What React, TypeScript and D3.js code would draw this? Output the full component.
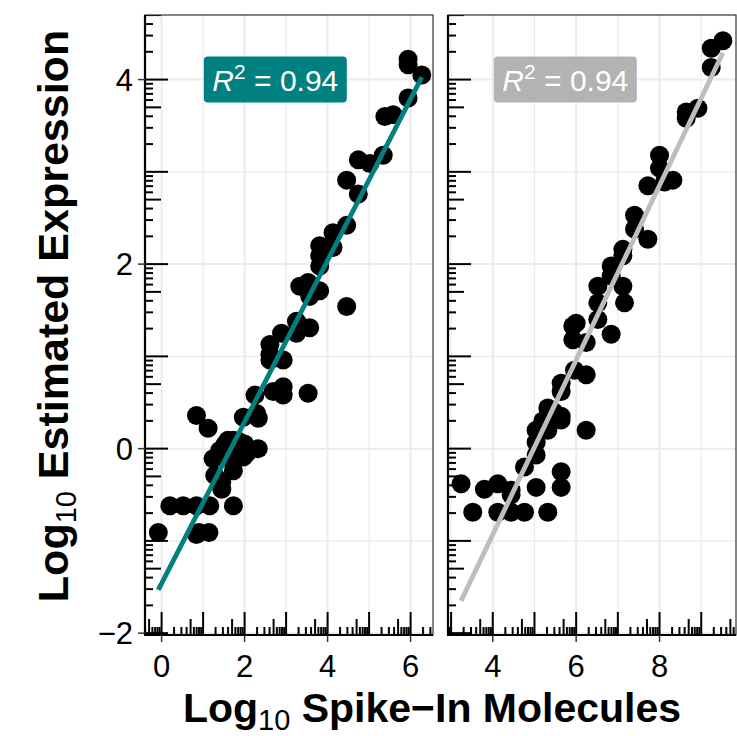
import React from "react";
import * as d3 from "d3";

// ---------- data ----------
const leftX = [-0.08, 0.2, 0.52, 0.84, 1.16, 1.73, 0.84, 0.9, 1.14, 0.84, 1.12, 1.24, 1.28, 1.4, 1.45, 1.45, 1.52, 1.6, 1.6, 1.69, 1.73, 1.73, 1.85, 1.85, 1.97, 2.0, 2.05, 2.33, 1.97, 2.33, 2.29, 2.25, 2.69, 2.93, 2.93, 3.53, 2.61, 2.61, 2.61, 2.89, 2.93, 3.25, 3.25, 3.33, 3.57, 3.33, 3.53, 3.57, 3.57, 3.81, 3.81, 3.81, 3.81, 4.05, 4.13, 4.13, 4.46, 4.46, 4.46, 4.74, 4.74, 5.02, 5.34, 5.38, 5.58, 5.94, 5.94, 5.94, 6.27];
const leftY = [-0.91, -0.62, -0.62, -0.62, -0.62, -0.62, -0.93, -0.91, -0.91, 0.36, 0.22, -0.11, -0.29, -0.02, -0.36, -0.44, 0.04, 0.09, -0.05, -0.13, 0.09, -0.24, 0.08, 0.0, -0.09, 0.05, -0.05, 0.0, 0.34, 0.33, 0.38, 0.58, 0.62, 0.67, 0.58, 0.6, 0.96, 1.13, 1.02, 1.25, 0.96, 1.38, 1.25, 1.33, 1.31, 1.76, 1.8, 1.73, 1.65, 1.71, 1.98, 2.09, 2.2, 2.2, 2.34, 2.18, 2.42, 1.54, 2.91, 2.76, 3.13, 3.09, 3.18, 3.6, 3.62, 3.8, 4.16, 4.22, 4.05];

const rightX = [3.24, 3.52, 3.8, 4.12, 4.44, 4.44, 4.12, 4.44, 4.76, 5.32, 5.04, 5.64, 5.64, 4.76, 5.04, 5.04, 5.04, 5.32, 5.32, 5.2, 5.46, 5.64, 5.64, 6.24, 5.64, 5.64, 5.96, 6.24, 5.92, 5.92, 6.24, 6.84, 6.0, 6.52, 6.52, 7.16, 6.52, 7.12, 6.84, 6.84, 7.12, 7.12, 7.72, 7.4, 7.4, 7.72, 8.12, 8.32, 8.0, 8.0, 8.64, 8.64, 8.92, 9.24, 9.24, 9.52];
const rightY = [-0.38, -0.69, -0.44, -0.38, -0.45, -0.5, -0.69, -0.69, -0.69, -0.69, -0.42, -0.42, -0.25, -0.2, -0.07, 0.07, 0.2, 0.2, 0.44, 0.3, 0.4, 0.31, 0.35, 0.2, 0.71, 0.62, 0.85, 0.8, 1.18, 1.33, 1.15, 1.24, 1.36, 1.4, 1.58, 1.58, 1.76, 1.76, 1.87, 1.98, 2.09, 2.16, 2.27, 2.38, 2.53, 2.85, 2.89, 2.91, 3.04, 3.18, 3.58, 3.65, 3.69, 4.13, 4.34, 4.42];

const fitSlope = [0.875, 0.946];
const fitIntercept = [-1.46, -4.715];
const r2Text = ["0.94", "0.94"];
const r2LabelX = [2.74, 5.74];
const r2LabelY = [4.0, 4.0];

const xDomains: [number, number][] = [[-0.4, 6.54], [2.926, 9.834]];
const xBreaks = [[0, 2, 4, 6], [4, 6, 8]];
const xMinorBreaks = [[1, 3, 5], [3, 5, 7, 9]];
const yDomain: [number, number] = [-2.02, 4.7];
const yBreaks = [-2, 0, 2, 4];
const yMinorBreaks = [-1, 1, 3];

const xTitleMain = "Log";
const xTitleSub = "10";
const xTitleRest = " Spike\u2212In Molecules";
const yTitleRest = " Estimated Expression";

// ---------- layout ----------
const W = 737;
const H = 736;
const panelLeft = [145, 448];
const panelW = 288;
const panelTop = 15;
const panelBottom = 635;
const colors = ["#008080", "#B3B3B3"];
const lineColors = ["#008080", "#BEBEBE"];
const FONT = "'Liberation Sans', Arial, Helvetica, sans-serif";

function logTicks(dom: [number, number]) {
  const out: { v: number; len: number }[] = [];
  for (let d = Math.floor(dom[0]) - 1; d <= Math.ceil(dom[1]); d++) {
    for (let k = 1; k <= 9; k++) {
      const v = d + Math.log10(k);
      if (v >= dom[0] && v <= dom[1]) out.push({ v, len: k === 1 ? 23 : k === 5 ? 16 : 8 });
    }
  }
  return out;
}

export default function App() {
  const y = d3.scaleLinear().domain(yDomain).range([panelBottom, panelTop]);
  const datasets = [
    { xs: leftX, ys: leftY },
    { xs: rightX, ys: rightY },
  ];
  const yLog = logTicks(yDomain);

  return (
    <svg width={W} height={H} style={{ position: "absolute", left: 0, top: 0, background: "#fff" }} fontFamily={FONT}>
      <defs>
        {panelLeft.map((pl, i) => (
          <clipPath id={`clip${i}`} key={i}>
            <rect x={pl} y={panelTop} width={panelW} height={panelBottom - panelTop} />
          </clipPath>
        ))}
      </defs>
      {datasets.map((ds, i) => {
        const x = d3.scaleLinear().domain(xDomains[i]).range([panelLeft[i], panelLeft[i] + panelW]);
        const pts = ds.xs.map((v, j) => [v, ds.ys[j]] as [number, number]);
        const ext = d3.extent(ds.xs) as [number, number];
        const fit = ext.map((v) => [v, fitIntercept[i] + fitSlope[i] * v] as [number, number]);
        const line = d3.line<[number, number]>().x((d) => x(d[0])).y((d) => y(d[1]));
        const xLog = logTicks(xDomains[i]);
        const pl = panelLeft[i];
        const pr = pl + panelW;
        const cx = x(r2LabelX[i]);
        const cy = y(r2LabelY[i]);
        return (
          <g key={i}>
            <g clipPath={`url(#clip${i})`}>
              {yMinorBreaks.map((b) => (
                <line key={"ym" + b} x1={pl} x2={pr} y1={y(b)} y2={y(b)} stroke="#EBEBEB" strokeWidth={1.2} />
              ))}
              {xMinorBreaks[i].map((b) => (
                <line key={"xm" + b} x1={x(b)} x2={x(b)} y1={panelTop} y2={panelBottom} stroke="#EBEBEB" strokeWidth={1.2} />
              ))}
              {yBreaks.map((b) => (
                <line key={"y" + b} x1={pl} x2={pr} y1={y(b)} y2={y(b)} stroke="#EBEBEB" strokeWidth={2} />
              ))}
              {xBreaks[i].map((b) => (
                <line key={"x" + b} x1={x(b)} x2={x(b)} y1={panelTop} y2={panelBottom} stroke="#EBEBEB" strokeWidth={2} />
              ))}
              {pts.map((p, j) => (
                <circle key={j} cx={x(p[0])} cy={y(p[1])} r={9.5} fill="#000" />
              ))}
              <path d={line(fit) || ""} stroke={lineColors[i]} strokeWidth={4.8} fill="none" />
              {yLog.map((t, j) => (
                <line key={"ly" + j} x1={pl} x2={pl + t.len} y1={y(t.v)} y2={y(t.v)} stroke="#000" strokeWidth={2} />
              ))}
              {xLog.map((t, j) => (
                <line key={"lx" + j} x1={x(t.v)} x2={x(t.v)} y1={panelBottom} y2={panelBottom - t.len} stroke="#000" strokeWidth={2} />
              ))}
            </g>
            <rect x={cx - 71.5} y={cy - 23} width={143} height={46} rx={4} fill={colors[i]} />
            <text x={cx} y={cy + 11} textAnchor="middle" fontSize={30} fill="#fff">
              <tspan fontStyle="italic">R</tspan>
              <tspan fontSize={21} dy={-12}>2</tspan>
              <tspan dy={12}>{" = " + r2Text[i]}</tspan>
            </text>
            <rect x={pl} y={panelTop} width={panelW} height={panelBottom - panelTop} fill="none" stroke="#333" strokeWidth={1.2} />
            <line x1={pl} x2={pl} y1={panelTop} y2={panelBottom + 1} stroke="#000" strokeWidth={2.2} />
            <line x1={pl} x2={pr} y1={panelBottom} y2={panelBottom} stroke="#000" strokeWidth={2.2} />
            {xBreaks[i].map((b) => (
              <g key={"xt" + b}>
                <line x1={x(b)} x2={x(b)} y1={panelBottom} y2={panelBottom + 7} stroke="#333" strokeWidth={1.5} />
                <text x={x(b)} y={677} textAnchor="middle" fontSize={31} fill="#000">{b}</text>
              </g>
            ))}
          </g>
        );
      })}
      {yBreaks.map((b) => (
        <g key={"yt" + b}>
          <line x1={panelLeft[0] - 7} x2={panelLeft[0]} y1={y(b)} y2={y(b)} stroke="#333" strokeWidth={1.5} />
          <text x={133} y={y(b) + 11} textAnchor="end" fontSize={31} fill="#000">{b < 0 ? "\u2212" + Math.abs(b) : b}</text>
        </g>
      ))}
      <text x={432} y={722} textAnchor="middle" fontSize={41} fontWeight="bold" fill="#000">
        {xTitleMain}
        <tspan fontSize={29} dy={8} fontWeight="normal">{xTitleSub}</tspan>
        <tspan dy={-8}>{xTitleRest}</tspan>
      </text>
      <text transform={`translate(68, 316) rotate(-90)`} textAnchor="middle" fontSize={43} fontWeight="bold" fill="#000">
        {xTitleMain}
        <tspan fontSize={29} dy={8} fontWeight="normal">{xTitleSub}</tspan>
        <tspan dy={-8}>{yTitleRest}</tspan>
      </text>
    </svg>
  );
}
